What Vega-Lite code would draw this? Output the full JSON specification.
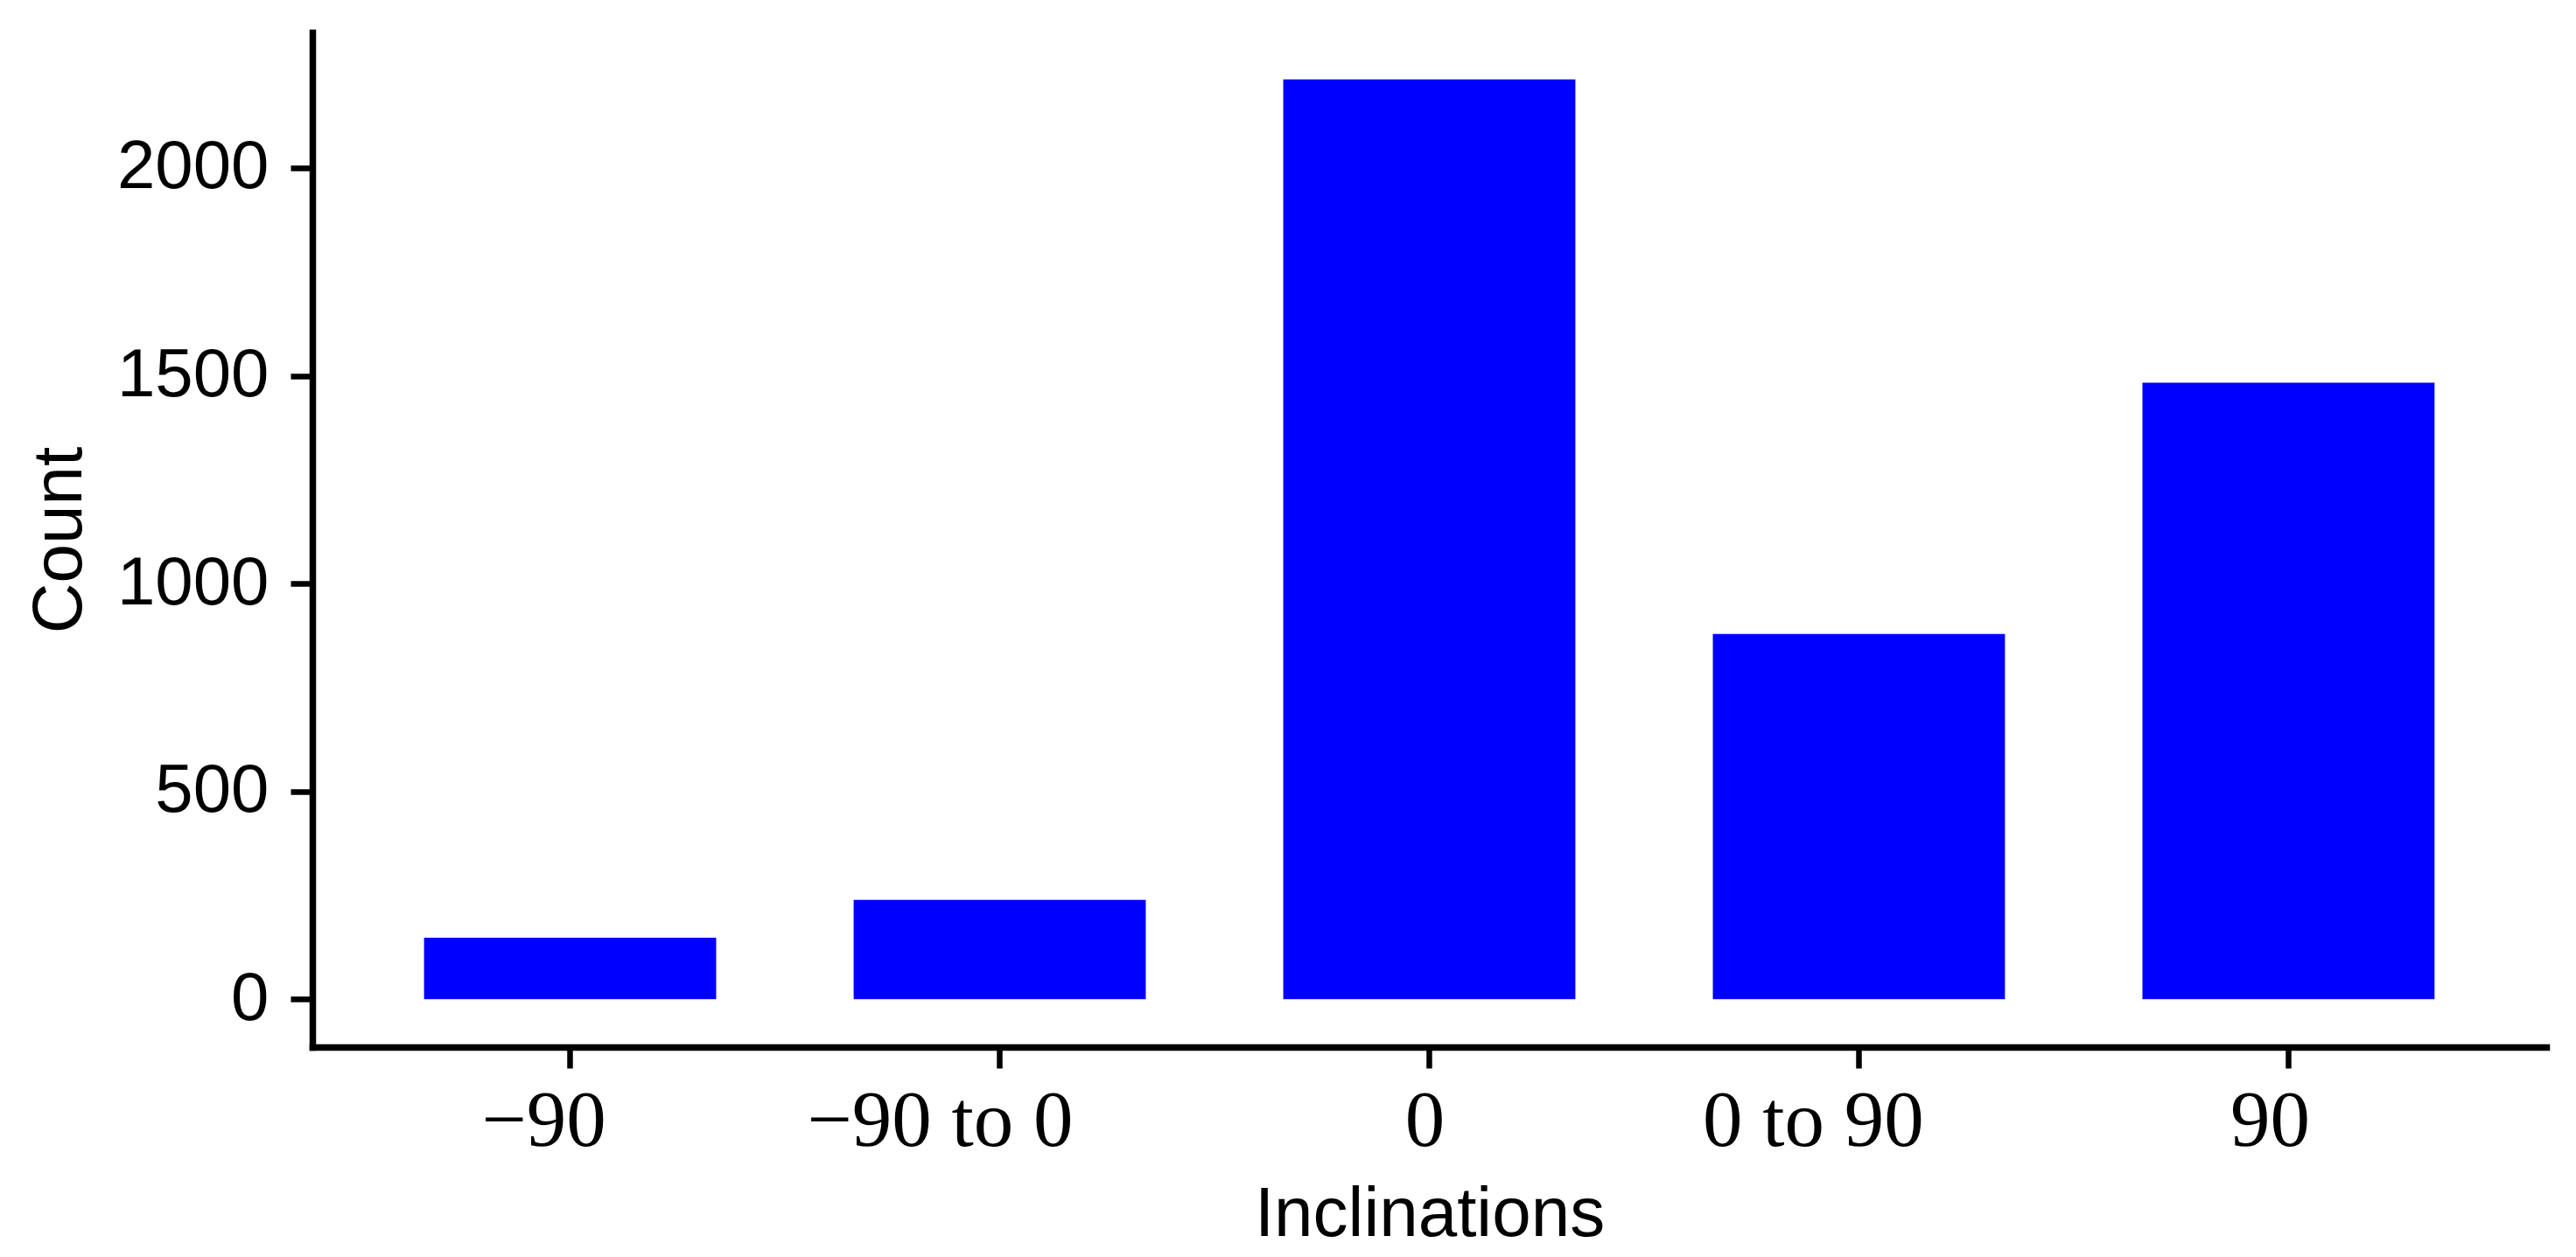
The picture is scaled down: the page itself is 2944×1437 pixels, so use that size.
{
  "$schema": "https://vega.github.io/schema/vega-lite/v6.json",
  "autosize": {"type": "none"},
  "width": 2553,
  "height": 1160,
  "padding": {"left": 357, "top": 37, "right": 34, "bottom": 240},
  "background": "white",
  "config": {
    "view": {"stroke": null},
    "axis": {"grid": false}
  },
  "data": {
    "values": [
      {"Inclination": "−90", "Count": 148},
      {"Inclination": "−90 to 0", "Count": 239},
      {"Inclination": "0", "Count": 2213},
      {"Inclination": "0 to 90", "Count": 879},
      {"Inclination": "90", "Count": 1483}
    ]
  },
  "mark": {"type": "bar", "color": "#0000FF"},
  "encoding": {
    "x": {
      "field": "Inclination",
      "type": "nominal",
      "sort": ["−90", "−90 to 0", "0", "0 to 90", "90"],
      "scale": {"paddingInner": 0.32, "paddingOuter": 0.26},
      "axis": {
        "title": "Inclinations",
        "titleFont": "Liberation Sans",
        "titleFontSize": 80,
        "titleFontWeight": "normal",
        "titleColor": "#000000",
        "titleBaseline": "alphabetic",
        "titleY": 215,
        "labelFont": "Liberation Serif",
        "labelFontSize": 91,
        "labelColor": "#000000",
        "labelAngle": 0,
        "labelLimit": 0,
        "labelBaseline": "alphabetic",
        "labelPadding": 88,
        "labelOffset": {
          "condition": [
            {"test": "datum.value === '−90'", "value": -30},
            {"test": "datum.value === '−90 to 0'", "value": -68},
            {"test": "datum.value === '0'", "value": -5},
            {"test": "datum.value === '0 to 90'", "value": -52},
            {"test": "datum.value === '90'", "value": -21}
          ],
          "value": 0
        },
        "tickSize": 24,
        "tickWidth": 6.5,
        "tickColor": "#000000",
        "domainColor": "#000000",
        "domainWidth": 7.5,
        "domainCap": "square"
      }
    },
    "y": {
      "field": "Count",
      "type": "quantitative",
      "scale": {"domain": [-115, 2326], "nice": false, "zero": false},
      "axis": {
        "title": "Count",
        "titleFont": "Liberation Sans",
        "titleFontSize": 80,
        "titleFontWeight": "normal",
        "titleColor": "#000000",
        "titleAngle": -90,
        "titleBaseline": "alphabetic",
        "titleX": -265,
        "titleY": 580,
        "values": [0, 500, 1000, 1500, 2000],
        "format": "d",
        "labelFont": "Liberation Sans",
        "labelFontSize": 78,
        "labelColor": "#000000",
        "labelLimit": 0,
        "labelPadding": 25,
        "tickSize": 25,
        "tickWidth": 6.5,
        "tickColor": "#000000",
        "domainColor": "#000000",
        "domainWidth": 7.5,
        "domainCap": "square"
      }
    }
  }
}
